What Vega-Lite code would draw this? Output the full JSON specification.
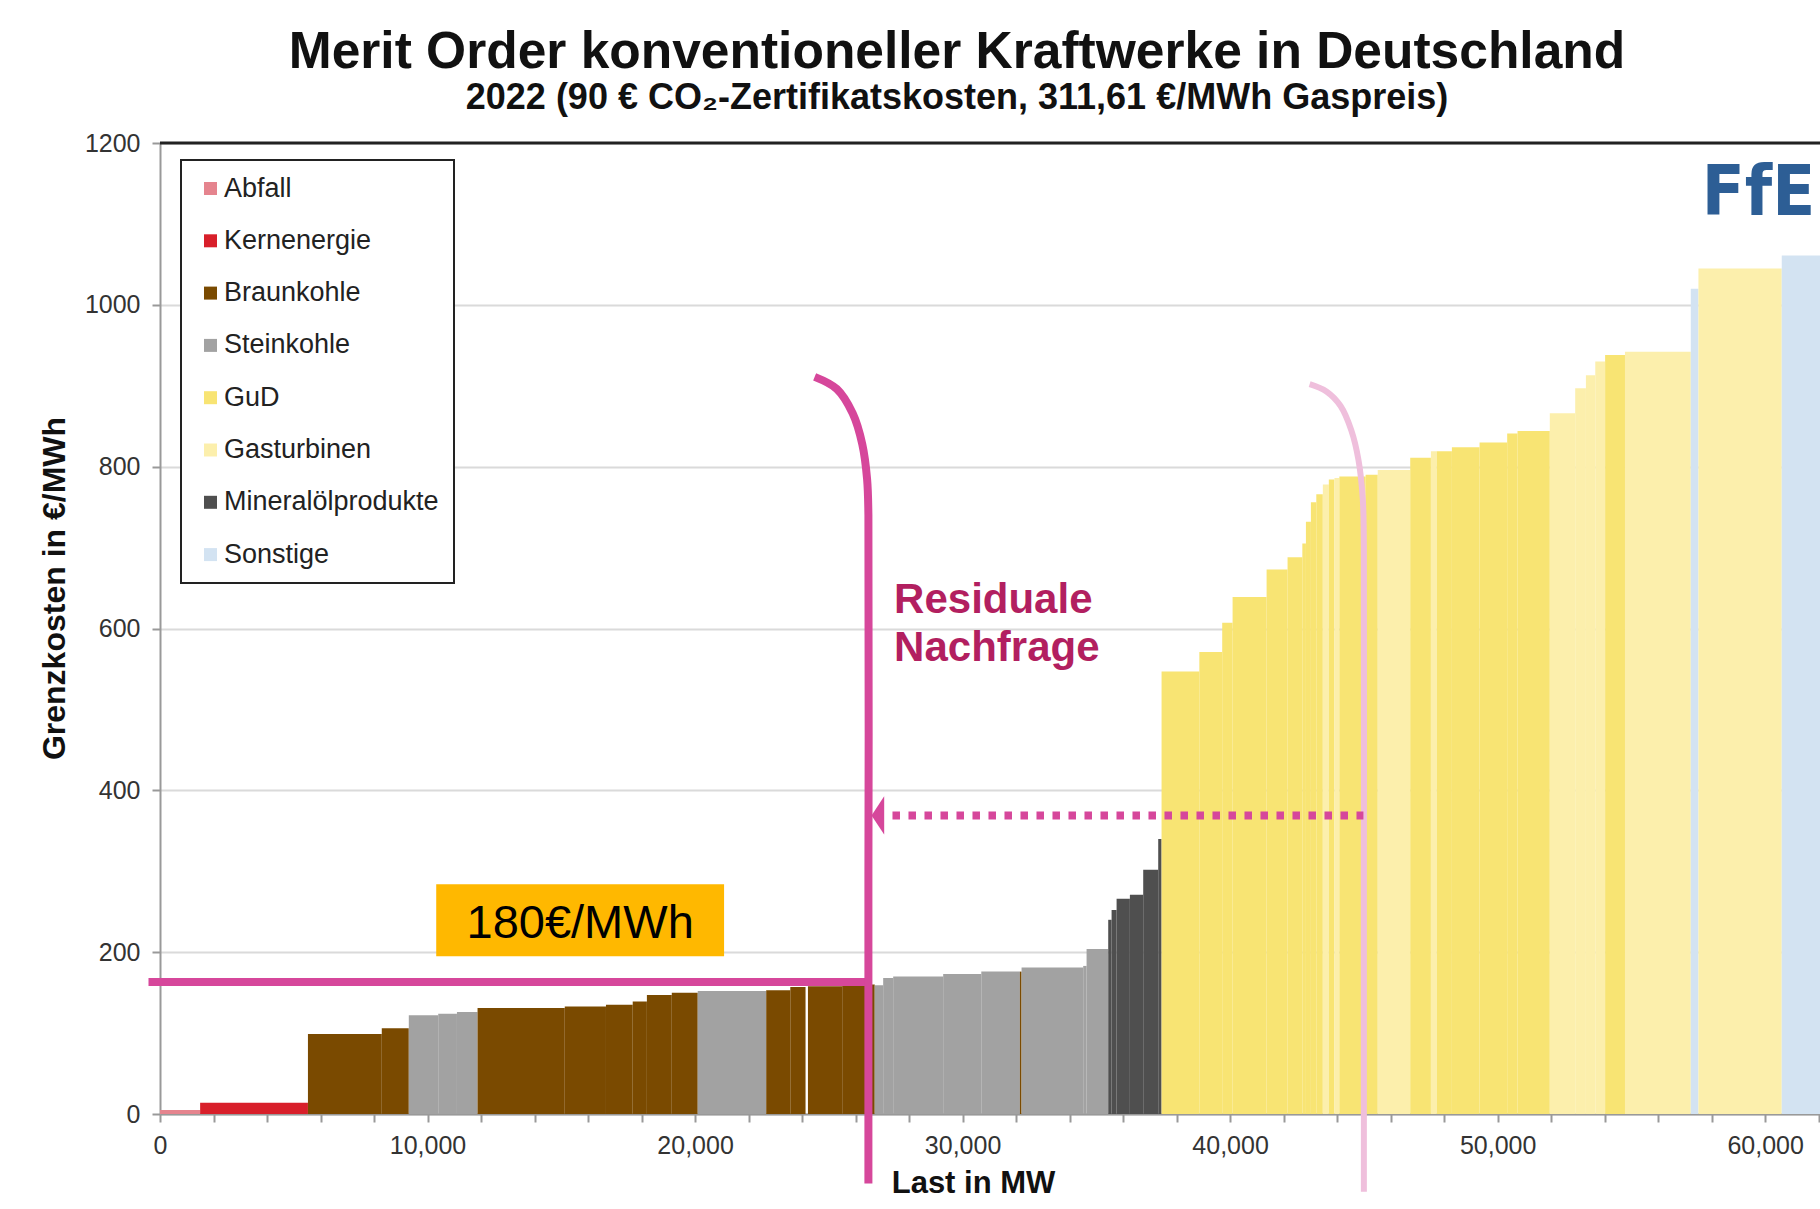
{
  "$schema": "https://vega.github.io/schema/vega-lite/v6.json",
  "width": 1660,
  "height": 971,
  "autosize": {"type": "none"},
  "padding": {"left": 160, "top": 143, "right": 0, "bottom": 95},
  "background": "white",
  "config": {
    "view": {"stroke": null},
    "font": "Liberation Sans",
    "legend": {
      "orient": "none",
      "legendX": 21,
      "legendY": 17,
      "strokeColor": "#222222",
      "strokeWidth": 2,
      "fillColor": "white",
      "padding": 15,
      "rowPadding": 24.3,
      "labelFontSize": 27,
      "labelFont": "Liberation Sans",
      "labelColor": "#222222",
      "labelOffset": 0,
      "labelLimit": 400,
      "symbolType": "square",
      "symbolSize": 169,
      "symbolStrokeWidth": 0,
      "symbolOffset": 1
    }
  },
  "title": {
    "text": "Merit Order konventioneller Kraftwerke in Deutschland",
    "subtitle": "2022 (90 € CO₂-Zertifikatskosten, 311,61 €/MWh Gaspreis)",
    "anchor": "middle",
    "frame": "group",
    "dx": -33,
    "offset": 15,
    "font": "Liberation Sans",
    "fontSize": 51.5,
    "fontWeight": "bold",
    "color": "#111111",
    "subtitleFont": "Liberation Sans",
    "subtitleFontSize": 36,
    "subtitleFontWeight": "bold",
    "subtitleColor": "#111111",
    "subtitlePadding": 3
  },
  "datasets": {
    "bars": [
      {"x0": 0, "x1": 1500, "kosten": 5, "typ": "Abfall"},
      {"x0": 1500, "x1": 5530, "kosten": 14, "typ": "Kernenergie"},
      {"x0": 5530, "x1": 8290, "kosten": 99, "typ": "Braunkohle"},
      {"x0": 8290, "x1": 9300, "kosten": 106, "typ": "Braunkohle"},
      {"x0": 9300, "x1": 10400, "kosten": 122, "typ": "Steinkohle"},
      {"x0": 10400, "x1": 11100, "kosten": 124, "typ": "Steinkohle"},
      {"x0": 11100, "x1": 11870, "kosten": 126, "typ": "Steinkohle"},
      {"x0": 11870, "x1": 15130, "kosten": 131, "typ": "Braunkohle"},
      {"x0": 15130, "x1": 16670, "kosten": 133, "typ": "Braunkohle"},
      {"x0": 16670, "x1": 17670, "kosten": 135, "typ": "Braunkohle"},
      {"x0": 17670, "x1": 18200, "kosten": 139, "typ": "Braunkohle"},
      {"x0": 18200, "x1": 19130, "kosten": 147, "typ": "Braunkohle"},
      {"x0": 19130, "x1": 20100, "kosten": 150, "typ": "Braunkohle"},
      {"x0": 20100, "x1": 22660, "kosten": 152, "typ": "Steinkohle"},
      {"x0": 22660, "x1": 23560, "kosten": 153, "typ": "Braunkohle"},
      {"x0": 23560, "x1": 24130, "kosten": 157, "typ": "Braunkohle"},
      {"x0": 24220, "x1": 25500, "kosten": 158, "typ": "Braunkohle"},
      {"x0": 25500, "x1": 26716, "kosten": 160, "typ": "Braunkohle"},
      {"x0": 26716, "x1": 27032, "kosten": 159, "typ": "Steinkohle"},
      {"x0": 27032, "x1": 27406, "kosten": 168, "typ": "Steinkohle"},
      {"x0": 27406, "x1": 29275, "kosten": 170, "typ": "Steinkohle"},
      {"x0": 29275, "x1": 30700, "kosten": 173, "typ": "Steinkohle"},
      {"x0": 30700, "x1": 32143, "kosten": 176, "typ": "Steinkohle"},
      {"x0": 32143, "x1": 32205, "kosten": 176, "typ": "Braunkohle"},
      {"x0": 32205, "x1": 34509, "kosten": 181, "typ": "Steinkohle"},
      {"x0": 34509, "x1": 34635, "kosten": 183, "typ": "Steinkohle"},
      {"x0": 34635, "x1": 35444, "kosten": 204, "typ": "Steinkohle"},
      {"x0": 35444, "x1": 35570, "kosten": 240, "typ": "Mineralölprodukte"},
      {"x0": 35570, "x1": 35757, "kosten": 252, "typ": "Mineralölprodukte"},
      {"x0": 35757, "x1": 36254, "kosten": 266, "typ": "Mineralölprodukte"},
      {"x0": 36254, "x1": 36752, "kosten": 271, "typ": "Mineralölprodukte"},
      {"x0": 36752, "x1": 37313, "kosten": 302, "typ": "Mineralölprodukte"},
      {"x0": 37313, "x1": 37438, "kosten": 340, "typ": "Mineralölprodukte"},
      {"x0": 37438, "x1": 38850, "kosten": 547, "typ": "GuD"},
      {"x0": 38850, "x1": 39705, "kosten": 571, "typ": "GuD"},
      {"x0": 39705, "x1": 40093, "kosten": 607, "typ": "GuD"},
      {"x0": 40093, "x1": 41364, "kosten": 639, "typ": "GuD"},
      {"x0": 41364, "x1": 42148, "kosten": 673, "typ": "GuD"},
      {"x0": 42148, "x1": 42700, "kosten": 688, "typ": "GuD"},
      {"x0": 42700, "x1": 42834, "kosten": 705, "typ": "GuD"},
      {"x0": 42834, "x1": 43020, "kosten": 732, "typ": "GuD"},
      {"x0": 43020, "x1": 43222, "kosten": 756, "typ": "GuD"},
      {"x0": 43222, "x1": 43466, "kosten": 766, "typ": "GuD"},
      {"x0": 43466, "x1": 43690, "kosten": 778, "typ": "Gasturbinen"},
      {"x0": 43690, "x1": 43900, "kosten": 784, "typ": "GuD"},
      {"x0": 43900, "x1": 44084, "kosten": 786, "typ": "Gasturbinen"},
      {"x0": 44084, "x1": 45065, "kosten": 788, "typ": "GuD"},
      {"x0": 45065, "x1": 45519, "kosten": 790, "typ": "GuD"},
      {"x0": 45519, "x1": 46733, "kosten": 796, "typ": "Gasturbinen"},
      {"x0": 46733, "x1": 47506, "kosten": 811, "typ": "GuD"},
      {"x0": 47506, "x1": 47726, "kosten": 819, "typ": "Gasturbinen"},
      {"x0": 47726, "x1": 48290, "kosten": 819, "typ": "GuD"},
      {"x0": 48290, "x1": 49324, "kosten": 824, "typ": "GuD"},
      {"x0": 49324, "x1": 50357, "kosten": 830, "typ": "GuD"},
      {"x0": 50357, "x1": 50744, "kosten": 841, "typ": "GuD"},
      {"x0": 50744, "x1": 51950, "kosten": 844, "typ": "GuD"},
      {"x0": 51950, "x1": 52900, "kosten": 866, "typ": "Gasturbinen"},
      {"x0": 52900, "x1": 53300, "kosten": 897, "typ": "Gasturbinen"},
      {"x0": 53300, "x1": 53650, "kosten": 913, "typ": "Gasturbinen"},
      {"x0": 53650, "x1": 54018, "kosten": 930, "typ": "Gasturbinen"},
      {"x0": 54018, "x1": 54760, "kosten": 938, "typ": "GuD"},
      {"x0": 54760, "x1": 57220, "kosten": 942, "typ": "Gasturbinen"},
      {"x0": 57220, "x1": 57506, "kosten": 1020, "typ": "Sonstige"},
      {"x0": 57506, "x1": 60620, "kosten": 1045, "typ": "Gasturbinen"},
      {"x0": 60620, "x1": 62050, "kosten": 1061, "typ": "Sonstige"}
    ],
    "box": [{"x0": 10325, "x1": 21085, "y0": 195, "y1": 284}],
    "boxlabel": [{"x": 15705, "y": 218, "label": "180€/MWh"}],
    "residual": [
      {"x": 27440, "y": 619, "label": "Residuale"},
      {"x": 27440, "y": 560, "label": "Nachfrage"}
    ],
    "hline": [{"x0": -430, "x1": 26480, "y": 163}],
    "curveDark": [
      {"i": 0, "x": 24470, "y": 911},
      {"i": 1, "x": 25300, "y": 896},
      {"i": 2, "x": 25891, "y": 866},
      {"i": 3, "x": 26250, "y": 828},
      {"i": 4, "x": 26430, "y": 785},
      {"i": 5, "x": 26480, "y": 740},
      {"i": 6, "x": 26480, "y": 300},
      {"i": 7, "x": 26480, "y": -86}
    ],
    "curveLight": [
      {"i": 0, "x": 42973, "y": 902},
      {"i": 1, "x": 43600, "y": 893},
      {"i": 2, "x": 44130, "y": 875},
      {"i": 3, "x": 44530, "y": 845},
      {"i": 4, "x": 44800, "y": 808},
      {"i": 5, "x": 44960, "y": 760},
      {"i": 6, "x": 45000, "y": 700},
      {"i": 7, "x": 45000, "y": 300},
      {"i": 8, "x": 45000, "y": -96}
    ],
    "dotted": [{"x0": 27380, "x1": 44983, "y": 369}],
    "arrow": [{"x": 27069, "y": 369}],
    "logo": [{"x": 59750, "y": 1137, "label": "FfE"}],
    "top": [{"y": 1200}]
  },
  "layer": [
    {
      "data": {"name": "bars"},
      "mark": {"type": "rect", "strokeWidth": 0},
      "encoding": {
        "x": {
          "field": "x0",
          "type": "quantitative",
          "scale": {"domain": [0, 62050], "nice": false, "zero": false},
          "axis": {
            "title": "Last in MW",
            "titleFontSize": 31,
            "titleFontWeight": "bold",
            "titleColor": "#111111",
            "titleX": 813,
            "titleY": 78,
            "titleBaseline": "alphabetic",
            "values": [0, 2000, 4000, 6000, 8000, 10000, 12000, 14000, 16000, 18000, 20000, 22000, 24000, 26000, 28000, 30000, 32000, 34000, 36000, 38000, 40000, 42000, 44000, 46000, 48000, 50000, 52000, 54000, 56000, 58000, 60000, 62000],
            "labelExpr": "datum.value % 10000 === 0 ? format(datum.value, ',') : ''",
            "labelFontSize": 25,
            "labelColor": "#333333",
            "labelPadding": 11,
            "labelOverlap": false,
            "labelFlush": false,
            "tickSize": 8,
            "tickColor": "#999999",
            "tickWidth": 2,
            "domainColor": "#999999",
            "domainWidth": 2,
            "grid": false
          }
        },
        "x2": {"field": "x1"},
        "y": {
          "field": "kosten",
          "type": "quantitative",
          "scale": {"domain": [0, 1200], "nice": false},
          "axis": {
            "title": "Grenzkosten in €/MWh",
            "titleFontSize": 32,
            "titleFontWeight": "bold",
            "titleColor": "#111111",
            "titleX": -96,
            "titleY": 445,
            "titleBaseline": "alphabetic",
            "values": [0, 200, 400, 600, 800, 1000, 1200],
            "format": "d",
            "labelFontSize": 25,
            "labelColor": "#333333",
            "labelPadding": 12,
            "tickSize": 8,
            "tickColor": "#999999",
            "tickWidth": 2,
            "domainColor": "#999999",
            "domainWidth": 2,
            "grid": true,
            "gridColor": "#dadada",
            "gridWidth": 2
          }
        },
        "y2": {"datum": 0},
        "color": {
          "field": "typ",
          "type": "nominal",
          "scale": {
            "domain": ["Abfall", "Kernenergie", "Braunkohle", "Steinkohle", "GuD", "Gasturbinen", "Mineralölprodukte", "Sonstige"],
            "range": ["#e5848e", "#d81f2a", "#7a4a00", "#a2a2a2", "#f8e473", "#fcefac", "#4f4f4f", "#d3e3f2"]
          },
          "legend": {"title": null, "labelExpr": "datum.label + '\u00a0\u00a0'"}
        }
      }
    },
    {
      "data": {"name": "top"},
      "mark": {"type": "rule", "color": "#222222", "strokeWidth": 3},
      "encoding": {"y": {"field": "y", "type": "quantitative"}}
    },
    {
      "data": {"name": "box"},
      "mark": {"type": "rect", "color": "#ffb800"},
      "encoding": {
        "x": {"field": "x0", "type": "quantitative"},
        "x2": {"field": "x1"},
        "y": {"field": "y0", "type": "quantitative"},
        "y2": {"field": "y1"}
      }
    },
    {
      "data": {"name": "boxlabel"},
      "mark": {"type": "text", "fontSize": 47, "font": "Liberation Sans", "color": "#000000", "align": "center", "baseline": "alphabetic"},
      "encoding": {
        "x": {"field": "x", "type": "quantitative"},
        "y": {"field": "y", "type": "quantitative"},
        "text": {"field": "label"}
      }
    },
    {
      "data": {"name": "residual"},
      "mark": {"type": "text", "fontSize": 42, "fontWeight": "bold", "font": "Liberation Sans", "color": "#b21f60", "align": "left", "baseline": "alphabetic"},
      "encoding": {
        "x": {"field": "x", "type": "quantitative"},
        "y": {"field": "y", "type": "quantitative"},
        "text": {"field": "label"}
      }
    },
    {
      "data": {"name": "hline"},
      "mark": {"type": "rule", "color": "#d6479b", "strokeWidth": 8},
      "encoding": {
        "x": {"field": "x0", "type": "quantitative"},
        "x2": {"field": "x1"},
        "y": {"field": "y", "type": "quantitative"}
      }
    },
    {
      "data": {"name": "curveLight"},
      "mark": {"type": "line", "color": "#efbfdc", "strokeWidth": 6, "interpolate": "catmull-rom", "strokeJoin": "round"},
      "encoding": {
        "x": {"field": "x", "type": "quantitative"},
        "y": {"field": "y", "type": "quantitative"},
        "order": {"field": "i", "type": "quantitative"}
      }
    },
    {
      "data": {"name": "curveDark"},
      "mark": {"type": "line", "color": "#d6479b", "strokeWidth": 8, "interpolate": "catmull-rom", "strokeJoin": "round"},
      "encoding": {
        "x": {"field": "x", "type": "quantitative"},
        "y": {"field": "y", "type": "quantitative"},
        "order": {"field": "i", "type": "quantitative"}
      }
    },
    {
      "data": {"name": "dotted"},
      "mark": {"type": "rule", "color": "#d6479b", "strokeWidth": 8, "strokeDash": [7.5, 8.5], "strokeCap": "butt"},
      "encoding": {
        "x": {"field": "x0", "type": "quantitative"},
        "x2": {"field": "x1"},
        "y": {"field": "y", "type": "quantitative"}
      }
    },
    {
      "data": {"name": "arrow"},
      "mark": {"type": "point", "shape": "M 0 -1 L -0.66 0 L 0 1 Z", "size": 1467, "filled": true, "color": "#d6479b", "opacity": 1, "strokeWidth": 0},
      "encoding": {
        "x": {"field": "x", "type": "quantitative"},
        "y": {"field": "y", "type": "quantitative"}
      }
    },
    {
      "data": {"name": "logo"},
      "mark": {"type": "text", "fontSize": 70, "fontWeight": "bold", "font": "DejaVu Sans Condensed, Liberation Sans", "color": "#2d5e95", "align": "center", "baseline": "middle"},
      "encoding": {
        "x": {"field": "x", "type": "quantitative"},
        "y": {"field": "y", "type": "quantitative"},
        "text": {"field": "label"}
      }
    }
  ]
}
